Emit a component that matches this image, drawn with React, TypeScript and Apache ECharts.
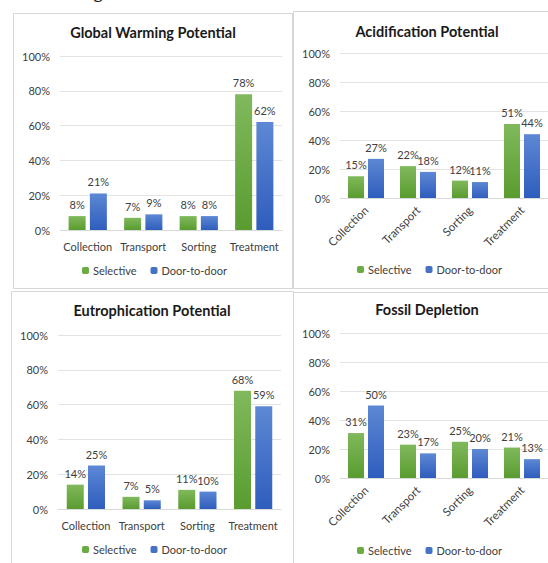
import React, { useEffect, useRef } from "react";
import * as echarts from "echarts";

const categories = ["Collection", "Transport", "Sorting", "Treatment"];
const panelTitles = [
  "Global Warming Potential",
  "Acidification Potential",
  "Eutrophication Potential",
  "Fossil Depletion",
];
const seriesNames = ["Selective", "Door-to-door"];
const selectiveGWP = [8, 7, 8, 78];
const doorGWP = [21, 9, 8, 62];
const selectiveAP = [15, 22, 12, 51];
const doorAP = [27, 18, 11, 44];
const selectiveEP = [14, 7, 11, 68];
const doorEP = [25, 5, 10, 59];
const selectiveFD = [31, 23, 25, 21];
const doorFD = [50, 17, 20, 13];
const yMin = 0;
const yMax = 100;
const yInterval = 20;

const FONT = "Lato, 'Open Sans', sans-serif";

const greenGrad = new echarts.graphic.LinearGradient(0, 0, 0, 1, [
  { offset: 0, color: "#80b95c" },
  { offset: 1, color: "#5a9c30" },
]);
const blueGrad = new echarts.graphic.LinearGradient(0, 0, 0, 1, [
  { offset: 0, color: "#5d88d4" },
  { offset: 1, color: "#2e5dbd" },
]);

const panels = [
  { sel: selectiveGWP, door: doorGWP, grid: { left: 60, top: 56, width: 222, height: 174 }, rotate: 0, title: [153, 32], legend: [82, 265], barWidth: 17 },
  { sel: selectiveAP, door: doorAP, grid: { left: 340, top: 53, width: 209, height: 145 }, rotate: 45, title: [427, 31], legend: [357, 264], barWidth: 16 },
  { sel: selectiveEP, door: doorEP, grid: { left: 58, top: 335, width: 223, height: 174 }, rotate: 0, title: [152, 310], legend: [82, 544], barWidth: 17 },
  { sel: selectiveFD, door: doorFD, grid: { left: 340, top: 333, width: 209, height: 145 }, rotate: 45, title: [427, 309], legend: [357, 545], barWidth: 16 },
];

export default function App() {
  const ref = useRef<HTMLDivElement>(null);
  useEffect(() => {
    if (!ref.current) return;
    const chart = echarts.init(ref.current, null, { renderer: "svg" });
    const grids: any[] = [];
    const xAxes: any[] = [];
    const yAxes: any[] = [];
    const series: any[] = [];
    const legends: any[] = [];
    const graphics: any[] = [
      { type: "rect", shape: { x: 13.5, y: 13.5, width: 279, height: 275 }, style: { fill: "none", stroke: "#d6d6d6", lineWidth: 1 } },
      { type: "rect", shape: { x: 293.5, y: 11.5, width: 270, height: 277 }, style: { fill: "none", stroke: "#d6d6d6", lineWidth: 1 } },
      { type: "rect", shape: { x: 11.5, y: 291.5, width: 282, height: 290 }, style: { fill: "none", stroke: "#d6d6d6", lineWidth: 1 } },
      { type: "rect", shape: { x: 293.5, y: 292.5, width: 270, height: 290 }, style: { fill: "none", stroke: "#d6d6d6", lineWidth: 1 } },
      { type: "text", x: 72, y: 1, style: { text: "Figure", font: "20px 'DejaVu Serif', serif", fill: "#222", textVerticalAlign: "bottom" } },
    ];
    panels.forEach((p, i) => {
      grids.push({ ...p.grid, containLabel: false });
      xAxes.push({
        type: "category",
        gridIndex: i,
        data: categories,
        axisLine: { lineStyle: { color: "#d9d9d9" } },
        axisTick: { show: false },
        axisLabel: {
          color: "#404040",
          fontSize: p.rotate ? 11.5 : 11,
          fontFamily: FONT,
          margin: p.rotate ? 10 : 11,
          rotate: p.rotate,
          interval: 0,
        },
      });
      yAxes.push({
        type: "value",
        gridIndex: i,
        min: yMin,
        max: yMax,
        interval: yInterval,
        axisLine: { show: false },
        axisTick: { show: false },
        splitLine: { lineStyle: { color: "#e3e3e3" } },
        axisLabel: { color: "#404040", fontSize: 11, fontFamily: FONT, margin: 10, formatter: "{value}%" },
      });
      const label = { show: true, position: "top", distance: 6, color: "#404040", fontSize: 11, fontFamily: FONT, formatter: "{c}%" };
      series.push({
        type: "bar",
        name: seriesNames[0],
        xAxisIndex: i,
        yAxisIndex: i,
        data: p.sel,
        barWidth: p.barWidth,
        barGap: "25%",
        itemStyle: { color: greenGrad },
        label,
      });
      series.push({
        type: "bar",
        name: seriesNames[1],
        xAxisIndex: i,
        yAxisIndex: i,
        data: p.door,
        barWidth: p.barWidth,
        barGap: "25%",
        itemStyle: { color: blueGrad },
        label,
      });
      legends.push({
        left: p.legend[0],
        top: p.legend[1],
        padding: 0,
        itemWidth: 7,
        itemHeight: 7,
        itemGap: 14,
        selectedMode: false,
        textStyle: { color: "#404040", fontSize: 11, fontFamily: FONT, padding: [0, 0, 0, -1] },
        data: [
          { name: seriesNames[0], itemStyle: { color: "#6aab42" } },
          { name: seriesNames[1], itemStyle: { color: "#4472c4" } },
        ],
      });
      graphics.push({
        type: "text",
        x: p.title[0],
        y: p.title[1],
        style: {
          text: panelTitles[i],
          font: `bold 14.5px ${FONT}`,
          fill: "#1a1a1a",
          textAlign: "center",
          textVerticalAlign: "middle",
        },
      });
    });
    chart.setOption({
      animation: false,
      backgroundColor: "#ffffff",
      grid: grids,
      xAxis: xAxes,
      yAxis: yAxes,
      series,
      legend: legends,
      graphic: graphics,
    });
    return () => chart.dispose();
  }, []);
  return <div ref={ref} style={{ position: "fixed", left: 0, top: 0, width: 548, height: 563 }} />;
}
